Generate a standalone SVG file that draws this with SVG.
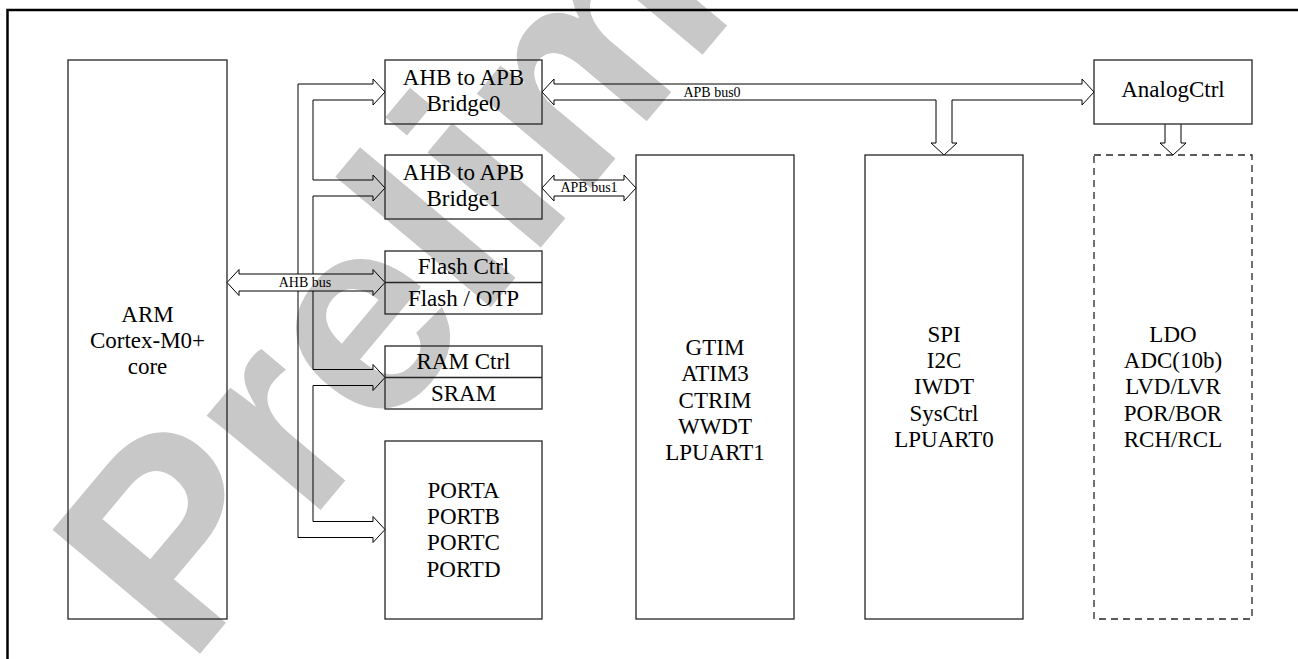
<svg xmlns="http://www.w3.org/2000/svg" width="1298" height="659" viewBox="0 0 1298 659">
<style>
.wm{font-family:"Liberation Sans",Arial,sans-serif;font-weight:bold;font-size:280px;fill:#c8c8c8}
.box{fill:none;stroke:#262626;stroke-width:1.3}
.dash{stroke-dasharray:7 5}
.conn{fill:none;stroke:#000;stroke-width:1}
.t{font-family:"Liberation Serif","Times New Roman",serif;font-size:23px;text-anchor:middle;fill:#000;stroke:none}
.s{font-size:14px}
</style>
<rect width="1298" height="659" fill="#fff"/>
<g id="watermark">
<text class="wm" transform="translate(188,668) rotate(-50)">Preliminary</text>
</g>
<path d="M7.5,659 V10 H1298" fill="none" stroke="#000" stroke-width="2.5"/>
<g id="connectors">
<g class="conn">
<path id="ahb-bus" d="M227,282.5 L239,269.5 L239,274 L373,274 L373,269.5 L385,282.5 L373,295.5 L373,291 L239,291 L239,295.5 Z"/>
<path d="M373,84 H298 V274 M298,291 V537.5 H373"/>
<path d="M373,100 H313 V180 H373 M373,196 H313 V274 M313,291 V369.5 H373 M373,385.5 H313 V521.5 H373"/>
<path d="M373,84 V79 L385,92 L373,105 V100"/>
<path d="M373,180 V175 L385,188 L373,201 V196"/>
<path d="M373,369.5 V364.5 L385,377.5 L373,390.5 V385.5"/>
<path d="M373,521.5 V516.5 L385,529.5 L373,542.5 V537.5"/>
<path id="apb-bus1" d="M542,188 L554,175 L554,180 L624,180 L624,175 L636,188 L624,201 L624,196 L554,196 L554,201 Z"/>
<path id="apb-bus0" d="M542,92 L554,79 L554,84 L1082,84 L1082,79 L1094,92 L1082,105 L1082,100 L952,100 L952,143 L957,143 L944,155 L931,143 L936,143 L936,100 L554,100 L554,105 Z"/>
<path id="analog-down" d="M1165,124 V143 H1160 L1173,155 L1186,143 H1181 V124"/>
</g>
<text class="t s" x="305" y="287">AHB bus</text>
<text class="t s" x="589" y="192">APB bus1</text>
<text class="t s" x="712" y="97">APB bus0</text>
</g>
<g id="arm">
<rect class="box" x="68" y="60" width="159" height="559"/>
<text class="t" x="147.5" y="321.5">ARM</text>
<text class="t" x="147.5" y="347.5">Cortex-M0+</text>
<text class="t" x="147.5" y="373.5">core</text>
</g>
<g id="bridge0">
<rect class="box" x="385" y="60" width="157" height="64"/>
<text class="t" x="463.5" y="84.5">AHB to APB</text>
<text class="t" x="463.5" y="110.5">Bridge0</text>
</g>
<g id="bridge1">
<rect class="box" x="385" y="155" width="157" height="64"/>
<text class="t" x="463.5" y="179.5">AHB to APB</text>
<text class="t" x="463.5" y="205.5">Bridge1</text>
</g>
<g id="flash">
<rect class="box" x="385" y="251" width="157" height="63"/>
<line class="box" x1="385" y1="282.5" x2="542" y2="282.5"/>
<text class="t" x="463.5" y="274">Flash Ctrl</text>
<text class="t" x="463.5" y="306">Flash / OTP</text>
</g>
<g id="ram">
<rect class="box" x="385" y="346" width="157" height="63"/>
<line class="box" x1="385" y1="377.5" x2="542" y2="377.5"/>
<text class="t" x="463.5" y="369">RAM Ctrl</text>
<text class="t" x="463.5" y="401">SRAM</text>
</g>
<g id="ports">
<rect class="box" x="385" y="441" width="157" height="178"/>
<text class="t" x="463.5" y="498.3">PORTA</text>
<text class="t" x="463.5" y="524.3">PORTB</text>
<text class="t" x="463.5" y="550.3">PORTC</text>
<text class="t" x="463.5" y="576.5">PORTD</text>
</g>
<g id="apb1-periph">
<rect class="box" x="636" y="155" width="158" height="464"/>
<text class="t" x="715" y="355">GTIM</text>
<text class="t" x="715" y="381">ATIM3</text>
<text class="t" x="715" y="407.5">CTRIM</text>
<text class="t" x="715" y="434">WWDT</text>
<text class="t" x="715" y="460">LPUART1</text>
</g>
<g id="apb0-periph">
<rect class="box" x="865" y="155" width="158" height="464"/>
<text class="t" x="944" y="342">SPI</text>
<text class="t" x="944" y="368">I2C</text>
<text class="t" x="944" y="394.3">IWDT</text>
<text class="t" x="944" y="420.5">SysCtrl</text>
<text class="t" x="944" y="446.7">LPUART0</text>
</g>
<g id="analogctrl">
<rect class="box" x="1094" y="60" width="158" height="64"/>
<text class="t" x="1173" y="97.3">AnalogCtrl</text>
</g>
<g id="analog">
<rect class="box dash" x="1094" y="155" width="158" height="464"/>
<text class="t" x="1173" y="342">LDO</text>
<text class="t" x="1173" y="368">ADC(10b)</text>
<text class="t" x="1173" y="394.3">LVD/LVR</text>
<text class="t" x="1173" y="420.5">POR/BOR</text>
<text class="t" x="1173" y="446.7">RCH/RCL</text>
</g>
</svg>
